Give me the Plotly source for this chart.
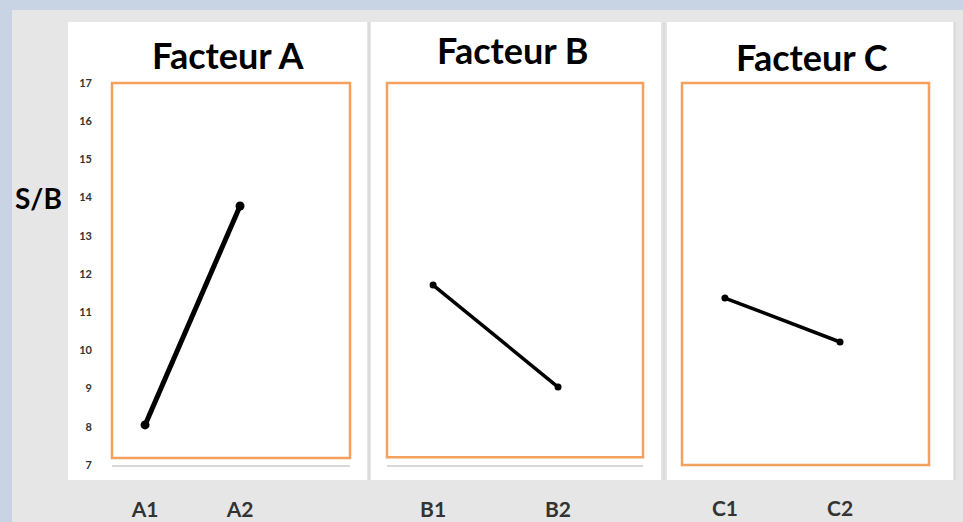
import plotly.graph_objects as go

# Valeurs S/B
factors = ["Facteur A", "Facteur B", "Facteur C"]
levels_a = ["A1", "A2"]
levels_b = ["B1", "B2"]
levels_c = ["C1", "C2"]
sb_a = [8.05, 13.78]
sb_b = [11.71, 9.04]
sb_c = [11.37, 10.22]
y_ticks = list(range(7, 18))

W, H = 963, 522
GRAY = "#e6e6e6"
ORANGE = "#f4a15d"


def px_x(v):
    return v / W


def px_y(v):
    return 1 - v / H


fig = go.Figure()

panels = [
    (levels_a, sb_a, 5, 9),
    (levels_b, sb_b, 3.5, 7),
    (levels_c, sb_c, 3.5, 7),
]
for i, (lv, vals, lw, ms) in enumerate(panels):
    sfx = "" if i == 0 else str(i + 1)
    fig.add_trace(
        go.Scatter(
            x=lv,
            y=vals,
            mode="lines+markers",
            line=dict(color="black", width=lw),
            marker=dict(color="black", size=ms),
            xaxis="x" + sfx,
            yaxis="y" + sfx,
            showlegend=False,
        )
    )

# background blocks: blue frame, white panels
shapes = [
    dict(type="rect", xref="paper", yref="paper", x0=0, x1=1, y0=px_y(10), y1=1,
         fillcolor="#c8d3e4", line_width=0, layer="below"),
    dict(type="rect", xref="paper", yref="paper", x0=0, x1=px_x(12), y0=0, y1=1,
         fillcolor="#c8d3e4", line_width=0, layer="below"),
]
for x0, x1 in [(68, 367), (371, 661), (667, 953)]:
    shapes.append(
        dict(type="rect", xref="paper", yref="paper", x0=px_x(x0), x1=px_x(x1),
             y0=px_y(480), y1=px_y(22), fillcolor="white", line_width=0, layer="below")
    )
for xs in [369, 664, 955]:
    shapes.append(
        dict(type="line", xref="paper", yref="paper", x0=px_x(xs), x1=px_x(xs),
             y0=px_y(480), y1=px_y(22), line=dict(color="#d8d8d8", width=1.5), layer="below")
    )

# orange frames around each plot
for i, bottom in enumerate([0.018, 0.02, 0.0]):
    sfx = "" if i == 0 else str(i + 1)
    shapes.append(
        dict(type="rect", xref="x" + sfx + " domain", yref="y" + sfx + " domain",
             x0=0, x1=1, y0=bottom, y1=1, line=dict(color=ORANGE, width=2.5))
    )

domains = [(112, 350), (387, 643), (682, 929)]
ranges = [(-0.348, 2.158), (-0.369, 1.68), (-0.373, 1.773)]
title_pos = [(228, 55), (512, 50), (812, 57)]
x_standoff = [25, 25, 29]

layout = dict(
    width=W,
    height=H,
    margin=dict(l=0, r=0, t=0, b=0),
    paper_bgcolor=GRAY,
    plot_bgcolor="rgba(0,0,0,0)",
    shapes=shapes,
    annotations=[],
)

for i in range(3):
    sfx = "" if i == 0 else str(i + 1)
    layout["xaxis" + sfx] = dict(
        domain=[px_x(domains[i][0]), px_x(domains[i][1])],
        range=list(ranges[i]),
        anchor="y" + sfx,
        automargin=False,
        showgrid=False,
        zeroline=False,
        showline=i < 2,
        linecolor="#d9d9d9",
        linewidth=1.5,
        ticks="",
        ticklabelstandoff=x_standoff[i],
        tickfont=dict(family="Lato", size=21, color="#333333", weight="bold"),
    )
    layout["yaxis" + sfx] = dict(
        domain=[px_y(465), px_y(83)],
        range=[7, 17],
        anchor="x" + sfx,
        automargin=False,
        showgrid=False,
        zeroline=False,
        tickvals=y_ticks,
        showticklabels=i == 0,
        ticks="",
        ticklabelstandoff=19,
        tickfont=dict(family="Lato", size=11, color="#333333", weight="bold"),
    )
    tx, ty = title_pos[i]
    layout["annotations"].append(
        dict(text=factors[i], xref="paper", yref="paper", x=px_x(tx), y=px_y(ty),
             showarrow=False, xanchor="center", yanchor="middle",
             font=dict(family="Lato", size=36, color="black", weight="bold"))
    )

layout["annotations"].append(
    dict(text="S/B", xref="paper", yref="paper", x=px_x(38), y=px_y(198),
         showarrow=False, xanchor="center", yanchor="middle",
         font=dict(family="Lato", size=28, color="black", weight="bold"))
)

fig.update_layout(**layout)
fig.write_html(
    "out.html",
    config={"displayModeBar": False},
    post_script="document.body.style.margin='0';",
)
